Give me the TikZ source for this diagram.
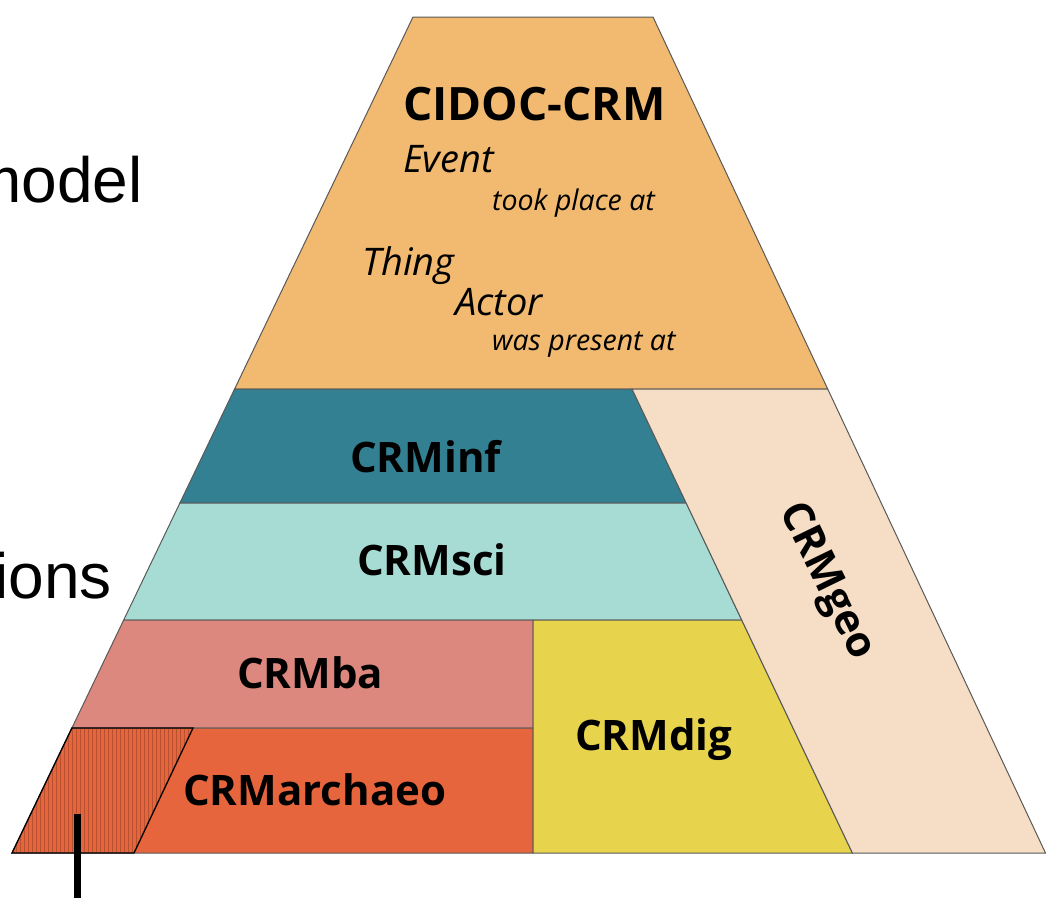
\documentclass[tikz,border=0pt]{standalone}
\usepackage{fontspec}
\setmainfont{Open Sans}
\newfontfamily\slidefont{Liberation Sans}
\usetikzlibrary{positioning}

\definecolor{cidoc}{RGB}{241,186,112}
\definecolor{inf}{RGB}{50,128,145}
\definecolor{sci}{RGB}{166,220,212}
\definecolor{ba}{RGB}{221,136,126}
\definecolor{archaeo}{RGB}{230,101,60}
\definecolor{dig}{RGB}{232,212,76}
\definecolor{geo}{RGB}{245,222,197}

\begin{document}
\begin{tikzpicture}[x=1pt,y=-1pt,
	every node/.style={inner sep=0pt,anchor=base west},
	band/.style={draw=black!65,line width=1pt},
	lbl/.style={font=\fontsize{42}{42}\selectfont\bfseries},
	cls/.style={font=\fontsize{38}{38}\selectfont\itshape},
	prop/.style={font=\fontsize{28.5}{28.5}\selectfont\itshape},
	side/.style={font=\fontsize{64}{64}\selectfont\slidefont,anchor=base east}]
\useasboundingbox (0,0) rectangle (1046,898);
% corners of the tiers
\coordinate (t1) at (413,17);   \coordinate (t2) at (653,17);
\coordinate (a1) at (234.6,389); \coordinate (a2) at (632,389);   \coordinate (a3) at (827.7,389);
\coordinate (b1) at (179.9,503); \coordinate (b2) at (686.2,503);
\coordinate (c1) at (123.7,620); \coordinate (c2) at (533,620);   \coordinate (c3) at (741.7,620);
\coordinate (d1) at (71.9,728);  \coordinate (d2) at (533,728);   \coordinate (d3) at (193,728);
\coordinate (e1) at (12,853);    \coordinate (e2) at (134,853);   \coordinate (e3) at (533,853);
\coordinate (e4) at (852.4,853); \coordinate (e5) at (1045.5,853);
\foreach \p/\q/\r/\s/\col in {t1/t2/a3/a1/cidoc,a1/a2/b2/b1/inf,b1/b2/c3/c1/sci,c1/c2/d2/d1/ba,d1/d2/e3/e1/archaeo,c2/c3/e4/e3/dig,a2/a3/e5/e4/geo}
	\filldraw[band,fill=\col] (\p)--(\q)--(\r)--(\s)--cycle;
% hatched corner
\begin{scope}
\clip (d1)--(d3)--(e2)--(e1)--cycle;
\foreach \x in {12,16,...,196}
	\draw[archaeo!80!black,line width=0.6pt] (\x,728)--(\x,853);
\end{scope}
\draw[black,line width=1.3pt] (d1)--(d3)--(e2)--(e1)--cycle;
% core model
\node[font=\fontsize{46}{46}\selectfont\bfseries] (crm) at (403,120) {CIDOC-CRM};
\node[cls] (event) at (403,172) {Event};
\node[prop] (took) at (492,210) {took place at};
\node[cls] (thing) at (362,275) {Thing};
\node[cls] (actor) at (455,315) {Actor};
\node[prop] (present) at (492,350) {was present at};
% extensions
\foreach \n/\x/\y in {inf/350/472,sci/357/575,ba/237/688,archaeo/183/805,dig/575/750}
	\node[lbl] (\n) at (\x,\y) {CRM\n};
\node[lbl,rotate=-64,anchor=center] (geo) at (826,582) {CRMgeo};
\node[side] (model) at (143,202) {model};
\node[side] (ions) at (112,598) {ions};
\coordinate (bar) at (77,814);
\coordinate (barend) at (77,898);
\draw[line width=7pt] (bar)--(barend);
\end{tikzpicture}
\end{document}
